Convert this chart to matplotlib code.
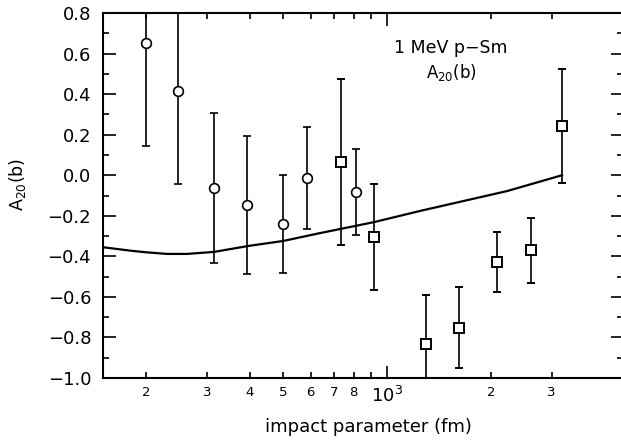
import numpy as np
import matplotlib
matplotlib.use("Agg")
import matplotlib.pyplot as plt
from matplotlib.ticker import FixedLocator, FixedFormatter, FuncFormatter, MultipleLocator

# -------- data --------
circ_b = [200, 248, 315, 393, 500, 586, 813]
circ_a = [0.652, 0.415, -0.063, -0.147, -0.240, -0.014, -0.083]
circ_err = [0.51, 0.46, 0.37, 0.34, 0.24, 0.25, 0.21]

sq_b = [736, 917, 1297, 1618, 2084, 2612, 3214]
sq_a = [0.065, -0.305, -0.832, -0.753, -0.428, -0.369, 0.243]
sq_err = [0.41, 0.26, 0.24, 0.20, 0.15, 0.16, 0.28]

theory_b = [150, 180, 200, 230, 263, 315, 395, 500, 640, 917, 1246, 2227, 3214]
theory_a = [-0.355, -0.372, -0.380, -0.388, -0.388, -0.378, -0.349, -0.324,
            -0.285, -0.231, -0.176, -0.078, 0.0]

minor_pos = [200, 300, 400, 500, 600, 700, 800, 900, 2000, 3000]
minor_lab = ['2', '3', '4', '5', '6', '7', '8', '', '2', '3']

# -------- plot --------
fig = plt.figure(figsize=(6.21, 4.43), dpi=100)
ax = fig.add_axes([0.1659, 0.1467, 0.8374, 0.8239])

ax.plot(theory_b, theory_a, color='black', lw=1.6)

ax.errorbar(circ_b, circ_a, yerr=circ_err, fmt='o', mfc='white', mec='black',
            ms=7, mew=1.2, ecolor='black', elinewidth=1.2, capsize=3, capthick=1.2)
ax.errorbar(sq_b, sq_a, yerr=sq_err, fmt='s', mfc='white', mec='black',
            ms=7, mew=1.4, ecolor='black', elinewidth=1.2, capsize=3, capthick=1.2)

ax.set_xscale('log')
ax.set_xlim(150, 4830)
ax.set_ylim(-1.0, 0.8)

ax.xaxis.set_major_locator(FixedLocator([1000]))
ax.xaxis.set_major_formatter(FixedFormatter([r'$10^3$']))
ax.xaxis.set_minor_locator(FixedLocator(minor_pos))
ax.xaxis.set_minor_formatter(FixedFormatter(minor_lab))

ax.yaxis.set_major_locator(MultipleLocator(0.2))
ax.yaxis.set_minor_locator(MultipleLocator(0.1))
ax.yaxis.set_major_formatter(FuncFormatter(lambda v, p: f"{v:.1f}".replace('-', '\u2212')))

ax.tick_params(which='both', direction='in', top=True, right=True, width=1.2)
ax.tick_params(which='major', length=9)
ax.tick_params(which='minor', length=4.5)
ax.tick_params(axis='y', which='major', labelsize=13, pad=8.5)
ax.tick_params(axis='x', which='major', labelsize=13, pad=6)
ax.tick_params(axis='x', which='minor', labelsize=9.5, pad=6)

for s in ax.spines.values():
    s.set_linewidth(1.5)

ax.text(0.669, 0.904, '1 MeV p\u2212Sm', transform=ax.transAxes, ha='center',
        va='center', fontsize=12.5)
ax.text(0.671, 0.838, r'A$_{20}$(b)', transform=ax.transAxes, ha='center',
        va='center', fontsize=12)

ax.set_xlabel('impact parameter (fm)', fontsize=13)
ax.xaxis.set_label_coords(0.51, -0.11)
ax.set_ylabel(r'A$_{20}$(b)', fontsize=12.5)
ax.yaxis.set_label_coords(-0.145, 0.53)

fig.savefig('out.png', dpi=100)
